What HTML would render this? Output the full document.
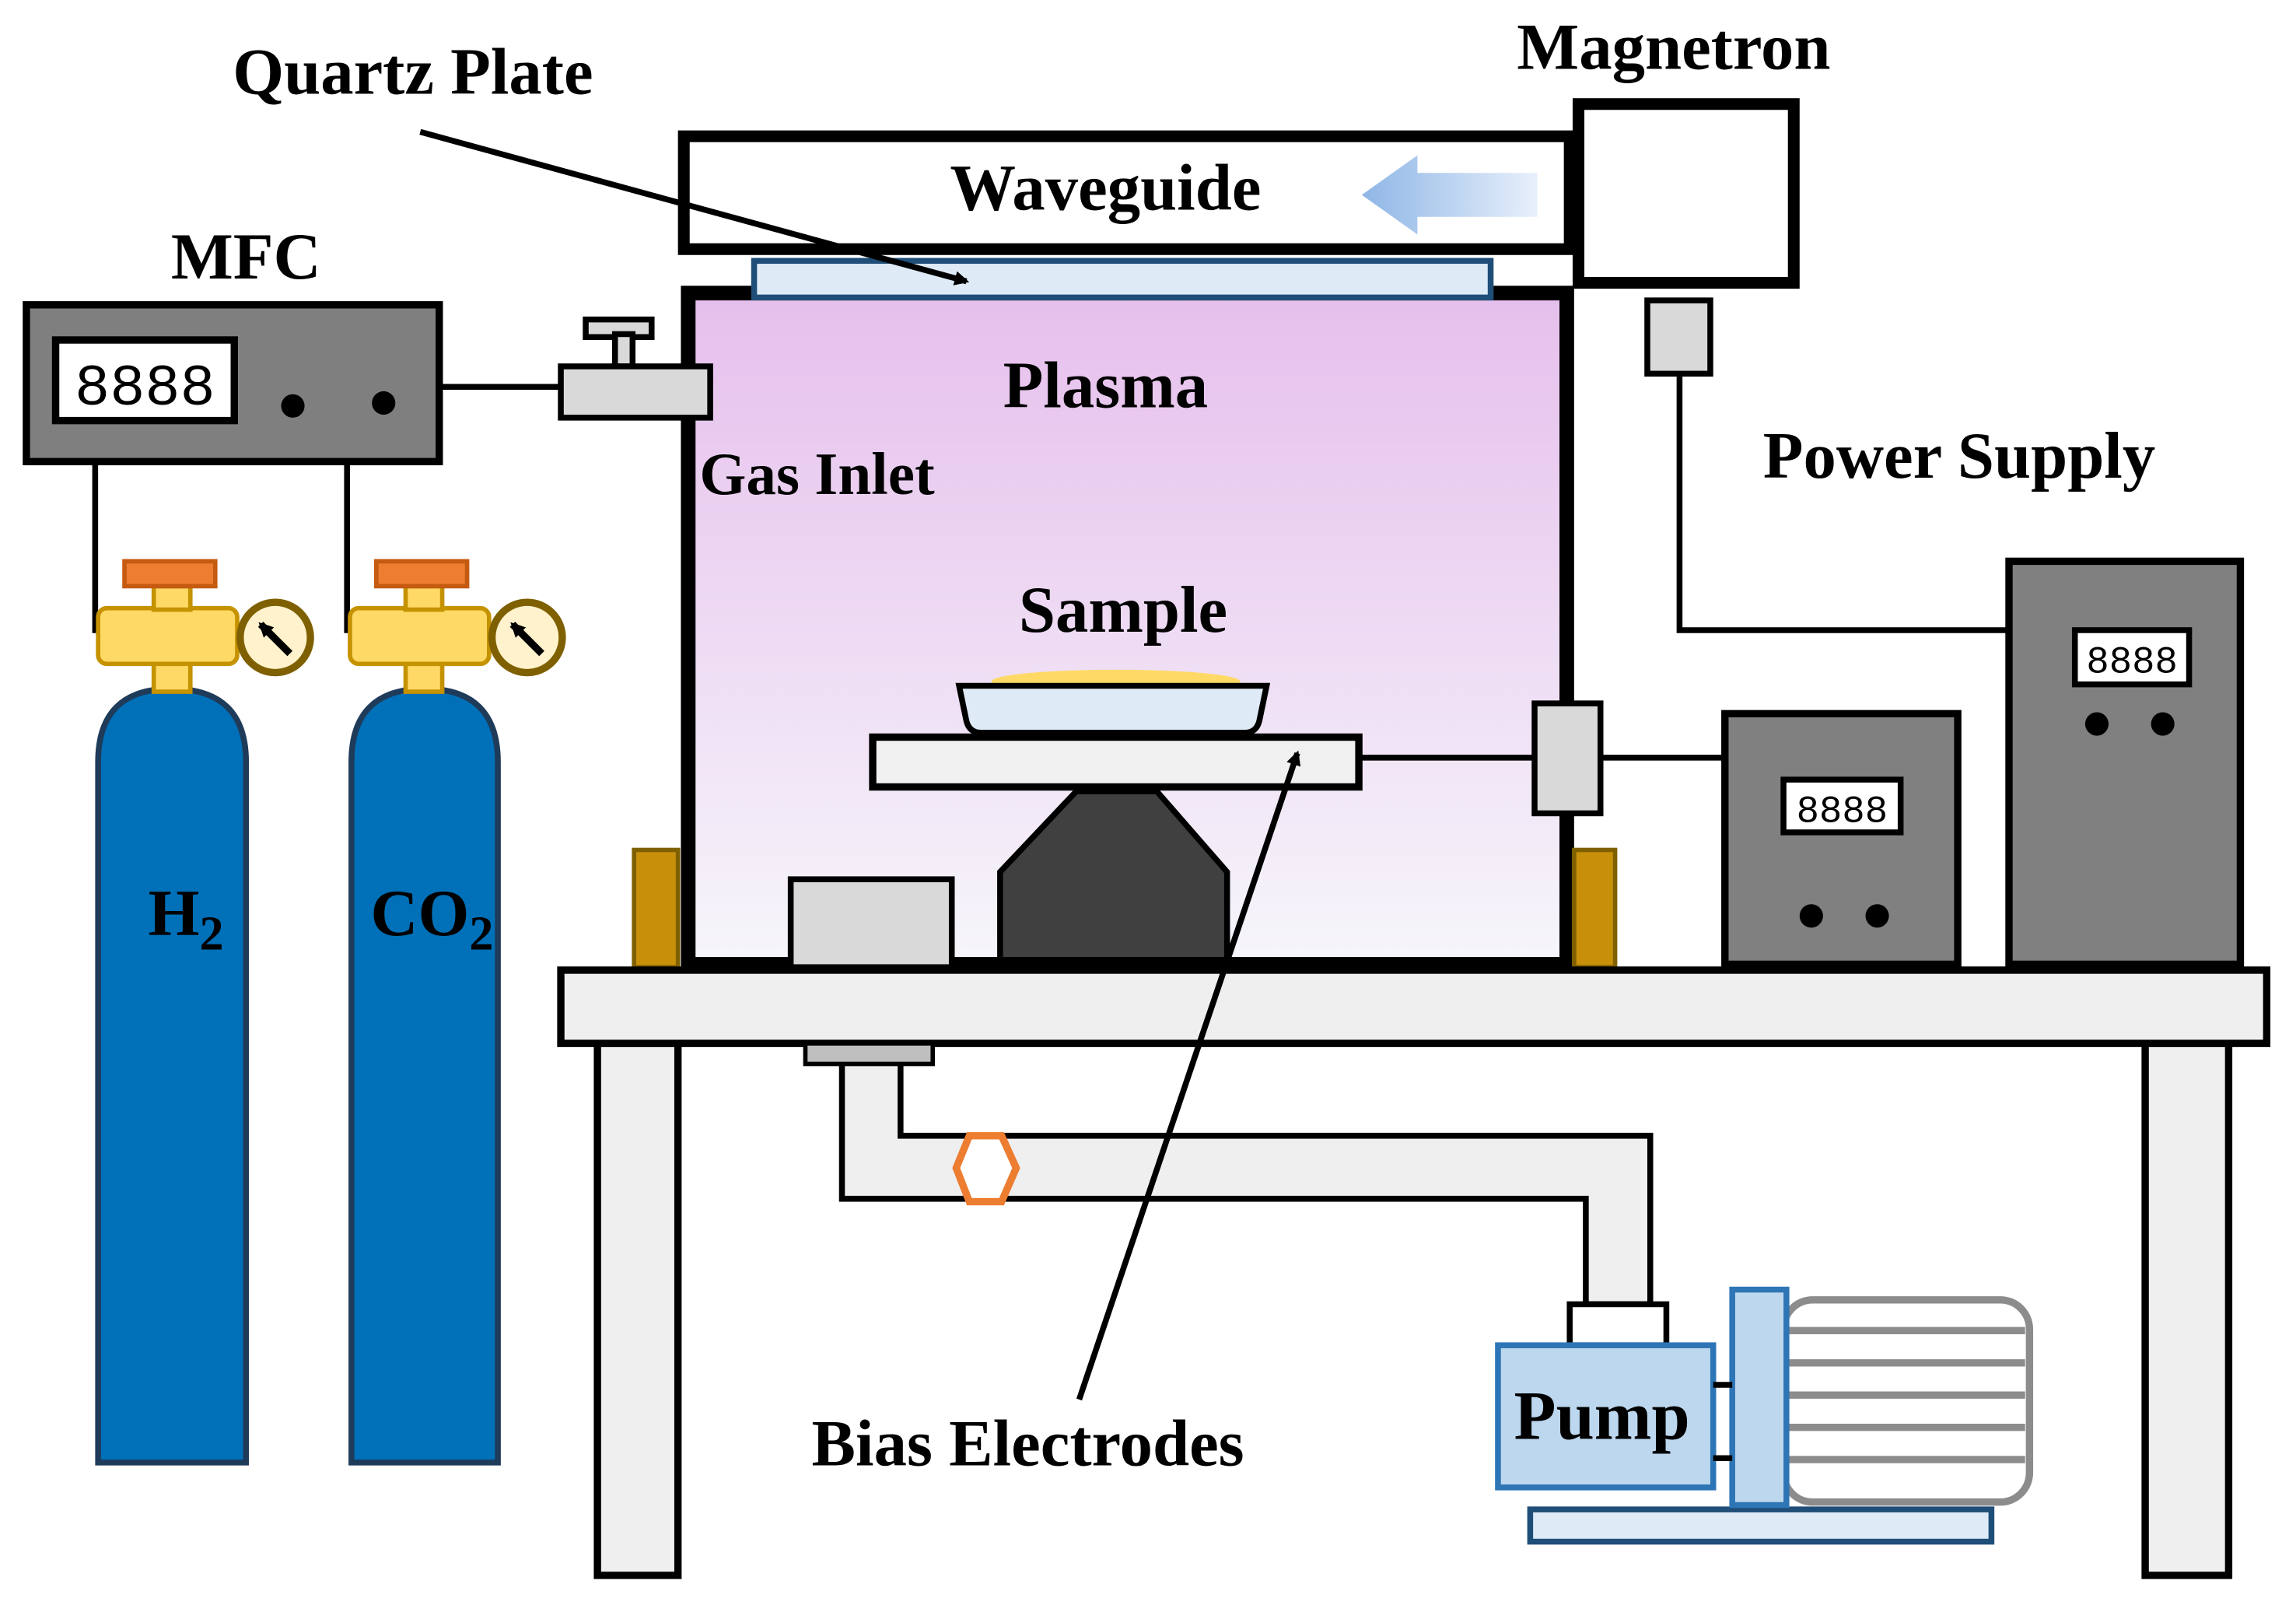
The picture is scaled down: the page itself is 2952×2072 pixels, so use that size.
<!DOCTYPE html>
<html><head><meta charset="utf-8"><style>html,body{margin:0;padding:0;background:#fff}svg{display:block}text{font-family:"Liberation Serif",serif;font-weight:bold;fill:#000}</style></head><body>
<svg width="2952" height="2072" viewBox="0 0 1568 1100" preserveAspectRatio="none" xmlns="http://www.w3.org/2000/svg">
<defs>
<linearGradient id="pl" x1="0" y1="0" x2="0" y2="1"><stop offset="0" stop-color="#e6bfec"/><stop offset="1" stop-color="#f6f6fb"/></linearGradient>
<linearGradient id="ar" x1="0" y1="0" x2="1" y2="0"><stop offset="0" stop-color="#8fb6e6"/><stop offset="1" stop-color="#e8f0fb"/></linearGradient>
<marker id="ah" markerWidth="10" markerHeight="10" refX="8" refY="5" orient="auto" markerUnits="userSpaceOnUse"><path d="M0,0 L10,5 L0,10 z" fill="#000"/></marker>
</defs>
<rect x="470" y="200" width="600" height="458" fill="url(#pl)" stroke="#000" stroke-width="10"/>
<rect x="467" y="93" width="605" height="77" fill="#fff" stroke="#000" stroke-width="8"/>
<text x="755" y="143" font-size="45" text-anchor="middle">Waveguide</text>
<path d="M930,133 L968,106 L968,118 L1050,118 L1050,148 L968,148 L968,160 z" fill="url(#ar)"/>
<rect x="1078" y="71" width="147" height="122" fill="#fff" stroke="#000" stroke-width="8"/>
<rect x="1125" y="205" width="43" height="50" fill="#d9d9d9" stroke="#000" stroke-width="4"/>
<polyline points="1147,255 1147,430 1372,430" fill="none" stroke="#000" stroke-width="4"/>
<rect x="515" y="178" width="503" height="25" fill="#deebf7" stroke="#1f4e79" stroke-width="4"/>
<text x="282" y="64" font-size="45" text-anchor="middle">Quartz Plate</text>
<text x="1143" y="47" font-size="45" text-anchor="middle">Magnetron</text>
<line x1="287" y1="90" x2="660" y2="192" stroke="#000" stroke-width="4" marker-end="url(#ah)"/>
<text x="755" y="278" font-size="45" text-anchor="middle">Plasma</text>
<text x="558" y="337" font-size="41" text-anchor="middle">Gas Inlet</text>
<text x="767" y="431" font-size="45" text-anchor="middle">Sample</text>
<text x="1338" y="326" font-size="45" text-anchor="middle">Power Supply</text>
<rect x="400" y="218" width="45" height="12" fill="#d9d9d9" stroke="#000" stroke-width="4"/>
<rect x="420" y="228" width="12" height="22" fill="#d9d9d9" stroke="#000" stroke-width="4"/>
<rect x="383" y="250" width="102" height="35" fill="#d9d9d9" stroke="#000" stroke-width="4"/>
<line x1="300" y1="264" x2="383" y2="264" stroke="#000" stroke-width="4"/>
<text x="168" y="190" font-size="45" text-anchor="middle">MFC</text>
<rect x="18" y="208" width="282" height="107" fill="#7f7f7f" stroke="#000" stroke-width="5"/>
<rect x="38" y="232" width="122" height="55" fill="#fff" stroke="#000" stroke-width="5"/>
<text x="99" y="276" font-size="40" text-anchor="middle" style="font-family:'Liberation Mono',monospace;font-weight:normal">8888</text>
<circle cx="200" cy="277" r="8" fill="#000"/><circle cx="262" cy="275" r="8" fill="#000"/>
<polyline points="65,315 65,432" fill="none" stroke="#000" stroke-width="4"/>
<polyline points="237,315 237,432" fill="none" stroke="#000" stroke-width="4"/>
<g>
<path d="M67,998 L67,520 Q67,470 117,470 Q168,470 168,520 L168,998 z" fill="#0070b8" stroke="#1f3b5a" stroke-width="4"/>
<rect x="105" y="452" width="25" height="20" fill="#ffd966" stroke="#c59200" stroke-width="3"/>
<rect x="67" y="415" width="95" height="38" rx="6" fill="#ffd966" stroke="#c59200" stroke-width="3"/>
<rect x="105" y="400" width="25" height="16" fill="#ffd966" stroke="#c59200" stroke-width="3"/>
<rect x="85" y="383" width="62" height="17" fill="#ed7d31" stroke="#c55a11" stroke-width="3"/>
<circle cx="188" cy="435" r="24" fill="#fff2cc" stroke="#7f6000" stroke-width="5"/>
<line x1="198" y1="446" x2="178" y2="426" stroke="#000" stroke-width="5" marker-end="url(#ah)"/>
<text x="127" y="638" font-size="45" text-anchor="middle">H<tspan font-size="33" dy="10">2</tspan></text>
</g>
<g>
<path d="M240,998 L240,520 Q240,470 290,470 Q340,470 340,520 L340,998 z" fill="#0070b8" stroke="#1f3b5a" stroke-width="4"/>
<rect x="277" y="452" width="25" height="20" fill="#ffd966" stroke="#c59200" stroke-width="3"/>
<rect x="239" y="415" width="95" height="38" rx="6" fill="#ffd966" stroke="#c59200" stroke-width="3"/>
<rect x="277" y="400" width="25" height="16" fill="#ffd966" stroke="#c59200" stroke-width="3"/>
<rect x="257" y="383" width="62" height="17" fill="#ed7d31" stroke="#c55a11" stroke-width="3"/>
<circle cx="360" cy="435" r="24" fill="#fff2cc" stroke="#7f6000" stroke-width="5"/>
<line x1="370" y1="446" x2="350" y2="426" stroke="#000" stroke-width="5" marker-end="url(#ah)"/>
<text x="295" y="638" font-size="45" text-anchor="middle">CO<tspan font-size="33" dy="10">2</tspan></text>
</g>
<ellipse cx="762" cy="465" rx="85" ry="8" fill="#ffd966"/>
<path d="M655,468 L865,468 L860,492 Q858,500 850,500 L670,500 Q662,500 660,492 z" fill="#deebf7" stroke="#000" stroke-width="4"/>
<rect x="596" y="503" width="332" height="34" fill="#f0f0f0" stroke="#000" stroke-width="5"/>
<polygon points="683,595 735,540 790,540 838,595 838,655 683,655" fill="#404040" stroke="#000" stroke-width="4"/>
<rect x="540" y="600" width="110" height="60" fill="#d9d9d9" stroke="#000" stroke-width="4"/>
<rect x="433" y="580" width="30" height="80" fill="#c8900a" stroke="#7f6000" stroke-width="3"/>
<rect x="1075" y="580" width="28" height="80" fill="#c8900a" stroke="#7f6000" stroke-width="3"/>
<line x1="928" y1="517" x2="1048" y2="517" stroke="#000" stroke-width="4"/>
<line x1="1093" y1="517" x2="1178" y2="517" stroke="#000" stroke-width="4"/>
<rect x="1048" y="480" width="45" height="75" fill="#d9d9d9" stroke="#000" stroke-width="4"/>
<rect x="1178" y="487" width="159" height="171" fill="#808080" stroke="#000" stroke-width="5"/>
<rect x="1218" y="532" width="80" height="36" fill="#fff" stroke="#000" stroke-width="4"/>
<text x="1258" y="561" font-size="26" text-anchor="middle" style="font-family:'Liberation Mono',monospace;font-weight:normal">8888</text>
<circle cx="1237" cy="625" r="8" fill="#000"/><circle cx="1282" cy="625" r="8" fill="#000"/>
<rect x="1372" y="383" width="158" height="275" fill="#808080" stroke="#000" stroke-width="5"/>
<rect x="1417" y="430" width="78" height="37" fill="#fff" stroke="#000" stroke-width="4"/>
<text x="1456" y="459" font-size="26" text-anchor="middle" style="font-family:'Liberation Mono',monospace;font-weight:normal">8888</text>
<circle cx="1432" cy="494" r="8" fill="#000"/><circle cx="1477" cy="494" r="8" fill="#000"/>
<rect x="408" y="712" width="55" height="363" fill="#efefef" stroke="#000" stroke-width="5"/>
<rect x="1465" y="712" width="57" height="363" fill="#efefef" stroke="#000" stroke-width="5"/>
<rect x="383" y="662" width="1165" height="50" fill="#efefef" stroke="#000" stroke-width="5"/>
<path d="M575,725 L575,818 L1083,818 L1083,890 L1127,890 L1127,775 L615,775 L615,725 z" fill="#efefef" stroke="#000" stroke-width="4"/>
<rect x="550" y="712" width="87" height="14" fill="#bfbfbf" stroke="#000" stroke-width="3"/>
<polygon points="653,797 662,775 684,775 694,797 684,820 662,820" fill="#fff" stroke="#ed7d31" stroke-width="5"/>
<rect x="1218" y="887" width="168" height="138" rx="20" fill="#fff" stroke="#8c8c8c" stroke-width="5"/>
<g stroke="#8c8c8c" stroke-width="5"><line x1="1220" y1="908" x2="1383" y2="908"/><line x1="1220" y1="930" x2="1383" y2="930"/><line x1="1220" y1="952" x2="1383" y2="952"/><line x1="1220" y1="974" x2="1383" y2="974"/><line x1="1220" y1="996" x2="1383" y2="996"/></g>
<rect x="1045" y="1030" width="315" height="22" fill="#deebf7" stroke="#1f4e79" stroke-width="4"/>
<rect x="1183" y="880" width="37" height="147" fill="#bdd7ee" stroke="#2e75b6" stroke-width="4"/>
<rect x="1072" y="890" width="66" height="28" fill="#fff" stroke="#000" stroke-width="4"/>
<rect x="1023" y="918" width="147" height="97" fill="#bdd7ee" stroke="#2e75b6" stroke-width="4"/>
<line x1="1170" y1="945" x2="1183" y2="945" stroke="#000" stroke-width="4"/>
<line x1="1170" y1="995" x2="1183" y2="995" stroke="#000" stroke-width="4"/>
<text x="1094" y="982" font-size="47" text-anchor="middle">Pump</text>
<text x="702" y="1000" font-size="45" text-anchor="middle">Bias Electrodes</text>
<line x1="737" y1="955" x2="886" y2="514" stroke="#000" stroke-width="4" marker-end="url(#ah)"/>
</svg>
</body></html>
